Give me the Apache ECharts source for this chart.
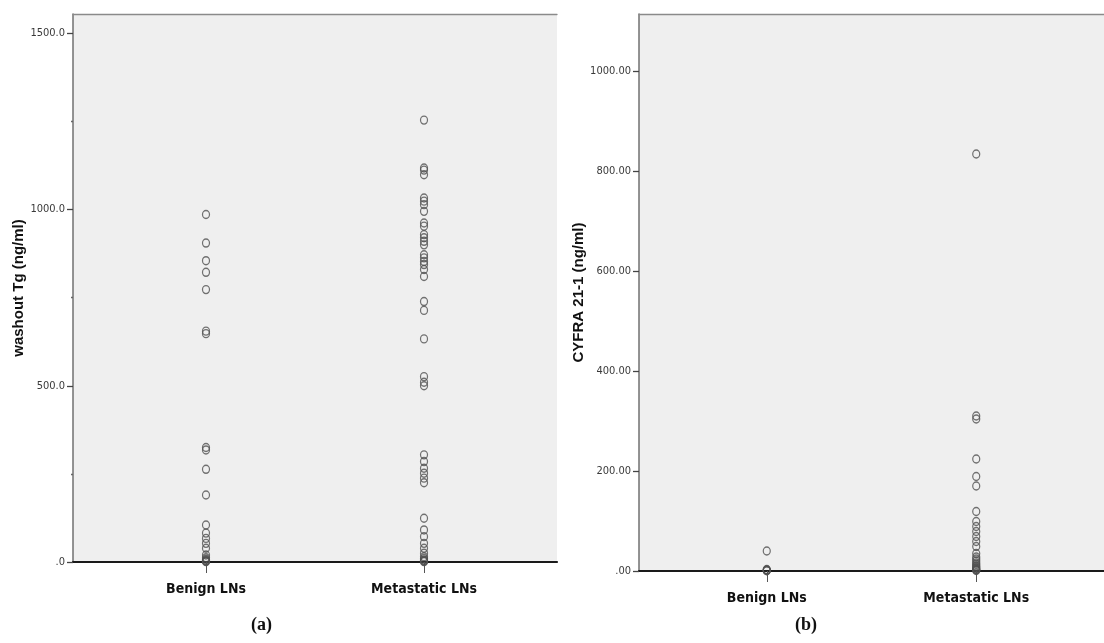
<!DOCTYPE html>
<html>
<head>
<meta charset="utf-8">
<script src="https://cdn.jsdelivr.net/npm/echarts@6/dist/echarts.min.js"></script>
<style>
  html, body { margin: 0; padding: 0; background: #fff; }
  #chart { width: 1104px; height: 643px; }
</style>
</head>
<body>
<div id="chart"></div>
<script>
// 兩組類別
const groups = ['Benign LNs', 'Metastatic LNs']

// (a) washout Tg (ng/ml)
const benignTg = [986, 905, 855, 822, 773, 655, 648, 325, 318, 263, 190, 105, 82, 67, 53, 39, 20, 12, 8, 5, 3, 2, 1]
const metastaticTg = [1254, 1118, 1112, 1099, 1033, 1024, 1014, 995, 962, 953, 929, 920, 910, 900, 872, 863, 853, 844, 830, 810, 739, 714, 633, 526, 510, 500, 304, 285, 266, 252, 238, 225, 124, 91, 72, 53, 39, 25, 15, 10, 6, 4, 2, 1]
const tgTicks = [0, 500, 1000, 1500]
const tgMinorTicks = [250, 750, 1250]

// (b) CYFRA 21-1 (ng/ml)
const benignCyfra = [40, 3, 2, 1.5, 1, 0.5]
const metastaticCyfra = [834, 310, 304, 224, 189, 170, 119, 99, 89, 79, 69, 59, 49, 35, 28, 24, 20, 16, 13, 10, 8, 6, 4, 3, 2, 1]
const cyfraTicks = [0, 200, 400, 600, 800, 1000]

const narrow = '"Liberation Sans Narrow", "DejaVu Sans Condensed", "Liberation Sans", sans-serif'
const markerStyle = { color: 'rgba(0,0,0,0)', borderColor: '#505050', borderWidth: 1.3 }

const toPoints = (values, idx) => values.map(v => [idx, v])

const xAxisFor = gridIndex => ({
  type: 'value', gridIndex, min: -0.61, max: 1.61,
  splitLine: { show: false },
  axisLine: { show: true, onZero: false, lineStyle: { color: '#1a1a1a', width: 2.2 } },
  axisTick: { show: true, customValues: [0, 1], length: 11, lineStyle: { color: '#555', width: 1 } },
  axisLabel: {
    customValues: [0, 1], margin: 20,
    formatter: v => groups[Math.round(v)],
    color: '#111', fontSize: 14, fontWeight: 'bold', fontFamily: narrow
  }
})

const topLineFor = gridIndex => ({
  type: 'value', gridIndex, position: 'top', min: -0.61, max: 1.61,
  splitLine: { show: false }, axisTick: { show: false }, axisLabel: { show: false },
  axisLine: { show: true, onZero: false, lineStyle: { color: '#8a8a8a', width: 1.3 } }
})

const yAxisFor = (gridIndex, max, name, nameGap, ticks, decimals) => ({
  type: 'value', gridIndex, min: 0, max,
  name, nameLocation: 'middle', nameGap,
  nameTextStyle: { fontSize: 15, fontWeight: 'bold', color: '#111', fontFamily: 'Liberation Sans, Arial, sans-serif' },
  splitLine: { show: false },
  axisLine: { show: true, onZero: false, lineStyle: { color: '#707070', width: 1.5 } },
  axisTick: { show: true, customValues: ticks, length: 6, lineStyle: { color: '#444', width: 1.3 } },
  axisLabel: {
    customValues: ticks, margin: 8,
    formatter: v => (v === 0 ? '.' + '0'.repeat(decimals) : v.toFixed(decimals)),
    color: '#3a3a3a', fontSize: 11, fontFamily: narrow
  }
})

const chart = echarts.init(document.getElementById('chart'))

chart.setOption({
  animation: false,
  grid: [
    { left: 73, top: 14, right: 547, bottom: 81, show: true, backgroundColor: '#efefef', borderWidth: 0 },
    { left: 639, top: 14, right: -21, bottom: 72, show: true, backgroundColor: '#efefef', borderWidth: 0 }
  ],
  xAxis: [xAxisFor(0), xAxisFor(1), topLineFor(0), topLineFor(1)],
  yAxis: [
    yAxisFor(0, 1555, 'washout Tg (ng/ml)', 46, tgTicks, 1),
    yAxisFor(1, 1114, 'CYFRA 21-1 (ng/ml)', 52, cyfraTicks, 2),
    // 細小的次刻度
    {
      type: 'value', gridIndex: 0, min: 0, max: 1555, position: 'left',
      splitLine: { show: false }, axisLabel: { show: false },
      axisLine: { show: false, onZero: false },
      axisTick: { show: true, customValues: tgMinorTicks, length: 2, lineStyle: { color: '#666', width: 1.3 } }
    }
  ],
  series: [
    { type: 'scatter', xAxisIndex: 0, yAxisIndex: 0, data: toPoints(benignTg, 0) },
    { type: 'scatter', xAxisIndex: 0, yAxisIndex: 0, data: toPoints(metastaticTg, 1) },
    { type: 'scatter', xAxisIndex: 1, yAxisIndex: 1, data: toPoints(benignCyfra, 0) },
    { type: 'scatter', xAxisIndex: 1, yAxisIndex: 1, data: toPoints(metastaticCyfra, 1) }
  ].map(s => Object.assign(s, {
    symbol: 'circle', symbolSize: [7, 8], itemStyle: markerStyle,
    emphasis: { disabled: true }, silent: true
  })),
  graphic: [
    { type: 'text', left: 251, top: 616, style: { text: '(a)', font: 'bold 18px "Liberation Serif", "DejaVu Serif", serif', fill: '#111' } },
    { type: 'text', left: 795, top: 616, style: { text: '(b)', font: 'bold 18px "Liberation Serif", "DejaVu Serif", serif', fill: '#111' } }
  ]
})
</script>
</body>
</html>
